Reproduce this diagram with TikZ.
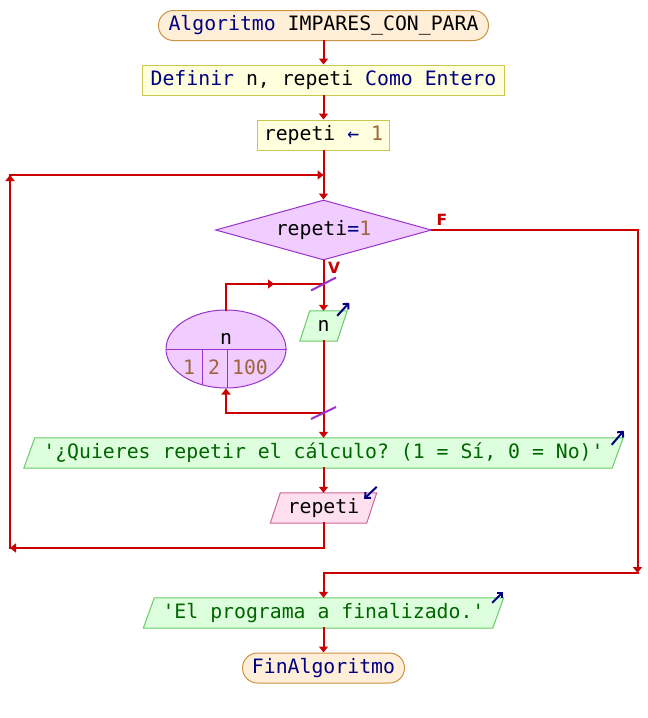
\documentclass[tikz,border=0pt]{standalone}
\usepackage{fontspec}
\setmonofont{DejaVu Sans Mono}
\newfontfamily\lblfont{DejaVu Sans}
\usetikzlibrary{shapes.geometric,shapes.misc,arrows.meta,calc,backgrounds}

\definecolor{flowred}{HTML}{CC0000}
\definecolor{kw}{HTML}{000080}
\definecolor{numc}{HTML}{A0643C}
\definecolor{strc}{HTML}{006400}
\definecolor{termfill}{HTML}{FFEFD8}
\definecolor{termborder}{HTML}{CC9340}
\definecolor{procfill}{HTML}{FFFFDD}
\definecolor{procborder}{HTML}{C8C850}
\definecolor{condfill}{HTML}{F0CCFF}
\definecolor{condborder}{HTML}{9933CC}
\definecolor{outfill}{HTML}{DDFFDD}
\definecolor{outborder}{HTML}{66CC66}
\definecolor{infill}{HTML}{FFE0EE}
\definecolor{inborder}{HTML}{CC6699}

% parallelogram behind a plain text node: #1 node, #2 half skew, #3 style
\newcommand\drawslant[3]{%
  \path[#3] ($(#1.south west)+(-#2,0)$) -- ($(#1.north west)+(#2,0)$)
    -- ($(#1.north east)+(#2,0)$) -- ($(#1.south east)+(-#2,0)$) -- cycle;}

\tikzset{
  base/.style={font=\ttfamily\fontsize{19.8pt}{22pt}\selectfont,
    inner sep=0pt, text height=14.5pt, text depth=4.5pt},
  term/.style={base, rounded rectangle, draw=termborder, fill=termfill,
    line width=1pt, minimum height=30},
  proc/.style={base, rectangle, draw=procborder, fill=procfill,
    line width=1pt, minimum height=30},
  cond/.style={base, diamond, shape aspect=3.6, draw=condborder,
    fill=condfill, line width=1pt, minimum width=216, minimum height=60},
  iobox/.style={base, rectangle, minimum height=30},
  outshape/.style={fill=outfill, draw=outborder, line width=1pt},
  inshape/.style={fill=infill, draw=inborder, line width=1pt},
  flow/.style={draw=flowred, line width=2pt, line cap=rect},
  flowarrow/.style={flow, -{Triangle[length=6pt,width=9pt]}},
  ioarrow/.style={draw=kw, line width=2pt, -{Straight Barb[length=4pt,width=8pt]}},
  slash/.style={draw=condborder, line width=2pt},
  lbl/.style={text=flowred, font=\lblfont\bfseries\fontsize{15.5pt}{16pt}\selectfont,
    inner sep=0pt},
}

\begin{document}
\begin{tikzpicture}[x=1pt,y=-1pt]
  \path[use as bounding box] (0,0) rectangle (648,718);

  % main column
  \node[term, minimum width=330] (start) at (323.5,25.5)
    {\textcolor{kw}{Algoritmo} IMPARES\_CON\_PARA};
  \node[proc, minimum width=362] (def) at (323.5,80)
    {\textcolor{kw}{Definir} n, repeti \textcolor{kw}{Como Entero}};
  \node[proc, minimum width=132] (asig) at (323.5,135)
    {repeti \textcolor{kw}{←} \textcolor{numc}{1}};
  \node[cond] (cond) at (323.5,230)
    {repeti\textcolor{kw}{=}\textcolor{numc}{1}};
  \node[iobox, minimum width=37] (nn) at (323.5,326) {n};
  \node[ellipse, draw=condborder, fill=condfill, line width=1pt,
    minimum width=120, minimum height=78, inner sep=0pt] (loop) at (226,349) {};
  \node[iobox, minimum width=588, text=strc] (q) at (323.5,453)
    {'¿Quieres repetir el cálculo? (1 = Sí, 0 = No)'};
  \node[iobox, minimum width=96] (rep) at (323.5,508) {repeti};
  \node[iobox, minimum width=349, text=strc] (fin) at (323.5,613)
    {'El programa a finalizado.'};
  \node[term, minimum width=162] (end) at (323.5,668)
    {\textcolor{kw}{FinAlgoritmo}};

  % loop contents
  \draw[condborder, line width=1pt] (loop.west) -- (loop.east);
  \draw[condborder, line width=1pt] ($(loop.center)+(-24,0)$) -- ++(0,35.7);
  \draw[condborder, line width=1pt] ($(loop.center)+(1,0)$) -- ++(0,39);
  \node[base, anchor=base] (lvar) at (226,344) {n};
  \node[base, anchor=base, text=numc] (lfrom) at (189,374) {1};
  \node[base, anchor=base, text=numc] (lstep) at (214,374) {2};
  \node[base, anchor=base, text=numc] (lto) at (250,374) {100};

  % parallelogram outlines
  \begin{scope}[on background layer]
    \fill[white] (0,0) rectangle (648,718);
    \drawslant{nn}{5}{outshape}
    \drawslant{q}{5.5}{outshape}
    \drawslant{rep}{5}{inshape}
    \drawslant{fin}{5.5}{outshape}
  \end{scope}

  % junction points
  \coordinate (jt) at (323.5,175);
  \coordinate (lt) at (10,175);
  \coordinate (lb) at (10,548);
  \coordinate (ftop) at (323.5,284);
  \coordinate (fbot) at (323.5,413);
  \coordinate (fa) at (274,284);
  \coordinate (rb) at (637.5,573);
  \coordinate (jb) at (323.5,573);

  % connectors
  \draw[flowarrow] (start.south) -- (def.north);
  \draw[flowarrow] (def.south) -- (asig.north);
  \draw[flowarrow] (asig.south) -- (cond.north);
  \draw[flow] (cond.south) -- (ftop);
  \draw[flowarrow] (ftop) -- (nn.north);
  \draw[flowarrow] (loop.north) |- (fa);
  \draw[flow] (fa) -- (ftop);
  \draw[flow] (nn.south) -- (fbot);
  \draw[flowarrow] (fbot) -| (loop.south);
  \draw[flowarrow] (fbot) -- (q.north);
  \draw[flowarrow] (q.south) -- (rep.north);
  \draw[flowarrow] (rep.south) |- (lb);
  \draw[flowarrow] (lb) -- (lt);
  \draw[flowarrow] (lt) -- (jt);
  \draw[flowarrow] (cond.east) -| (rb);
  \draw[flow] (rb) -- (jb);
  \draw[flowarrow] (jb) -- (fin.north);
  \draw[flowarrow] (fin.south) -- (end.north);

  % loop bar marks
  \draw[slash] ($(ftop)+(-12.5,6.5)$) -- ($(ftop)+(12.5,-6.5)$);
  \draw[slash] ($(fbot)+(-12.5,6)$) -- ($(fbot)+(12.5,-6)$);

  % branch labels
  \node[lbl] (flab) at (442,220) {F};
  \node[lbl] (vlab) at (334,268) {V};

  % input / output marks
  \draw[ioarrow] ($(nn.north east)+(-5,5)$) -- ($(nn.north east)+(7,-8)$);
  \draw[ioarrow] ($(q.north east)+(-6,7)$) -- ($(q.north east)+(6,-7)$);
  \draw[ioarrow] ($(fin.north east)+(-6,5)$) -- ($(fin.north east)+(5,-6)$);
  \draw[ioarrow] ($(rep.north east)+(5,-6)$) -- ($(rep.north east)+(-7.5,6)$);
\end{tikzpicture}
\end{document}
